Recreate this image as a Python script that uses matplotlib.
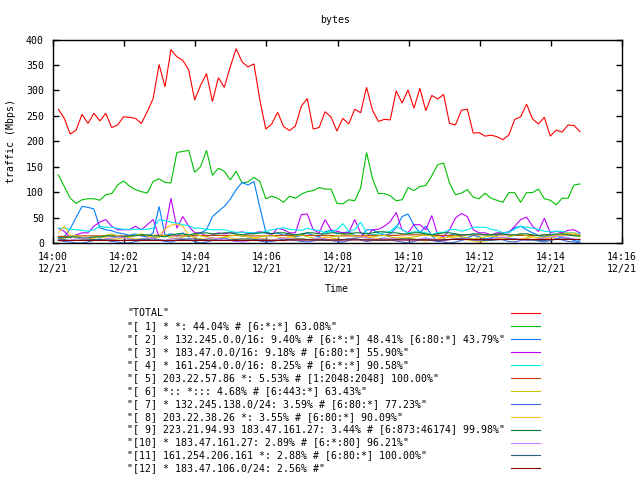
import matplotlib
matplotlib.use("Agg")
import matplotlib.pyplot as plt
import matplotlib.dates as mdates
from matplotlib.lines import Line2D
import pandas as pd

start_time = "2010-12-21 14:00:09"
n_points = 89

total = [263,245,214,222,253,235,255,240,255,227,
         232,248,247,245,235,258,284,351,307,380,
         366,359,340,281,310,333,278,325,306,346,
         382,356,346,352,281,224,234,257,229,221,
         230,269,284,224,227,258,248,220,245,234,
         263,256,306,261,239,243,242,299,275,301,
         265,304,260,290,283,292,235,232,261,263,
         216,217,210,212,209,203,212,243,248,273,
         244,234,247,210,222,218,232,231,219]

s1 = [134,111,88,78,85,87,87,84,95,97,
      114,122,112,105,101,98,121,126,119,118,
      178,180,182,139,150,182,133,147,141,124,
      141,118,120,129,121,87,92,88,80,92,
      88,96,101,103,109,106,106,78,77,85,
      83,108,178,127,97,97,93,83,85,109,
      103,111,113,132,154,157,118,95,98,105,
      90,87,98,88,84,80,99,99,80,99,
      99,106,87,84,75,88,88,114,116]

s2 = [10,12,28,50,72,70,67,30,26,24,
      20,18,15,18,14,12,20,72,15,18,
      15,20,12,15,20,26,52,62,72,86,
      105,119,114,121,70,22,18,20,15,18,
      12,15,20,15,12,22,25,18,20,22,
      15,12,26,26,20,15,18,30,52,57,
      35,20,33,15,2,8,15,18,12,10,
      15,12,8,10,15,20,22,30,33,26,
      20,15,12,18,8,12,10,5,2]

s3 = [29,23,10,16,20,20,33,41,46,33,
      26,26,26,33,26,36,46,12,26,88,
      29,52,33,20,20,13,16,20,18,20,
      20,22,18,20,22,20,16,29,26,20,
      20,56,57,26,20,46,26,23,20,20,
      46,20,12,26,27,33,42,60,26,20,
      36,36,26,54,16,12,26,49,58,52,
      26,20,20,16,20,20,20,33,46,51,
      33,23,49,20,23,20,25,26,20]

s4 = [29,29,27,26,25,23,26,33,31,31,
      29,27,27,27,27,27,29,46,44,41,
      39,36,34,29,29,27,26,26,26,23,
      21,21,21,20,20,23,26,28,30,27,
      26,25,29,26,25,20,23,26,38,23,
      26,41,20,16,18,20,23,33,26,20,
      22,22,20,16,21,21,26,27,23,26,
      31,31,31,27,25,20,21,27,33,31,
      29,27,23,22,23,23,20,20,18]

s5 = [13,13,13,14,14,14,14,14,14,14,
      14,14,14,15,15,15,15,15,15,14,
      14,14,14,14,15,15,15,15,15,15,
      15,14,14,14,14,14,14,15,15,15,
      15,15,15,15,15,15,15,14,14,14,
      14,14,15,15,15,15,15,15,16,16,
      16,16,16,15,15,15,15,15,15,16,
      16,16,16,16,16,16,16,15,15,15,
      15,15,16,16,16,16,16,16,16]

s6 = [8,10,12,15,10,8,10,12,15,18,
      14,10,12,15,18,14,10,12,15,10,
      8,12,15,18,14,12,10,8,12,14,
      16,14,12,10,12,14,15,12,10,12,
      14,16,12,10,8,10,12,14,16,18,
      14,12,10,12,14,15,12,10,8,10,
      12,14,16,14,12,10,12,14,12,10,
      8,10,12,14,12,10,12,15,18,14,
      12,10,12,14,16,18,20,16,12]

s7 = [5,3,2,0,0,2,5,8,6,3,
      2,0,0,3,5,8,10,6,3,2,
      5,8,6,3,0,2,5,8,10,6,
      3,5,8,6,4,2,3,5,8,6,
      5,3,2,4,6,8,5,3,2,5,
      8,6,3,5,8,10,6,4,2,0,
      3,6,8,5,3,2,0,2,5,8,
      6,4,5,8,10,6,3,2,5,8,
      6,4,2,5,8,6,3,2,0]

s8 = [20,33,15,10,8,8,10,12,10,8,
      8,10,10,8,8,10,15,12,28,35,
      37,33,15,10,8,8,8,10,12,10,
      8,8,6,8,10,8,6,8,10,12,
      10,8,6,8,10,12,10,8,6,8,
      10,12,14,10,8,6,8,10,12,10,
      8,6,4,6,8,10,12,10,8,6,
      4,2,4,6,8,10,8,6,8,10,
      12,10,8,10,12,15,18,20,15]

s9 = [10,10,12,12,10,10,12,12,14,14,
      12,12,14,14,16,16,14,14,12,16,
      18,18,16,18,20,20,18,18,20,20,
      18,16,18,18,20,20,18,20,20,18,
      16,18,20,20,18,18,20,20,18,18,
      20,20,18,20,22,22,20,20,18,18,
      20,20,18,16,18,20,20,18,16,16,
      18,18,16,16,18,18,16,16,18,18,
      16,14,16,16,18,18,16,14,14]

s10 = [8,6,5,8,10,8,6,5,8,10,
       12,10,8,6,8,10,8,6,5,8,
       10,8,6,5,6,8,10,8,6,5,
       4,2,4,6,8,6,5,8,10,8,
       6,5,6,8,10,8,6,4,6,8,
       10,12,10,8,6,8,10,8,6,5,
       6,8,10,8,6,4,6,8,10,8,
       6,5,6,8,10,12,10,8,6,5,
       6,8,10,12,14,12,10,8,6]

s11 = [6,6,5,5,6,6,7,7,6,6,
       5,5,6,6,7,7,6,6,5,5,
       6,7,8,8,7,6,6,5,5,6,
       7,8,8,7,6,6,5,5,6,7,
       8,8,7,6,6,5,5,6,7,8,
       8,7,6,6,5,5,6,7,8,8,
       7,6,6,5,5,6,7,8,8,7,
       6,6,5,5,6,7,8,8,7,6,
       6,5,5,6,7,8,8,7,6]

s12 = [5,5,5,5,5,5,5,5,5,5,
       5,5,5,5,5,5,5,5,5,5,
       5,5,5,5,5,5,5,5,5,5,
       5,5,5,5,5,5,5,5,5,6,
       6,6,6,6,6,6,6,6,6,6,
       6,6,6,6,6,6,6,6,6,6,
       6,6,6,6,6,6,7,7,7,7,
       7,7,7,7,7,7,7,7,7,7,
       7,7,7,7,7,7,7,7,7]

labels = [
    '"TOTAL"',
    '"[ 1] * *: 44.04% # [6:*:*] 63.08%"',
    '"[ 2] * 132.245.0.0/16: 9.40% # [6:*:*] 48.41% [6:80:*] 43.79%"',
    '"[ 3] * 183.47.0.0/16: 9.18% # [6:80:*] 55.90%"',
    '"[ 4] * 161.254.0.0/16: 8.25% # [6:*:*] 90.58%"',
    '"[ 5] 203.22.57.86 *: 5.53% # [1:2048:2048] 100.00%"',
    '"[ 6] *:: *::: 4.68% # [6:443:*] 63.43%"',
    '"[ 7] * 132.245.138.0/24: 3.59% # [6:80:*] 77.23%"',
    '"[ 8] 203.22.38.26 *: 3.55% # [6:80:*] 90.09%"',
    '"[ 9] 223.21.94.93 183.47.161.27: 3.44% # [6:873:46174] 99.98%"',
    '"[10] * 183.47.161.27: 2.89% # [6:*:80] 96.21%"',
    '"[11] 161.254.206.161 *: 2.88% # [6:80:*] 100.00%"',
    '"[12] * 183.47.106.0/24: 2.56% #"',
]
colors = ["#ff0000", "#00c000", "#0080ff", "#c000ff", "#00eeee", "#c04000",
          "#c8c800", "#4169e1", "#ffc020", "#008040", "#c080ff", "#306080",
          "#8b0000"]
series = [total, s1, s2, s3, s4, s5, s6, s7, s8, s9, s10, s11, s12]

yticks = [0, 50, 100, 150, 200, 250, 300, 350, 400]

FONT = "DejaVu Sans Mono"
FS = 7.15
LW = 0.8
plt.rcParams["font.family"] = FONT
plt.rcParams["font.size"] = FS

W, H = 640, 480
fig = plt.figure(figsize=(6.4, 4.8), dpi=100)
ax = fig.add_axes([53 / W, 1 - 243 / H, (622 - 53) / W, (243 - 39.5) / H])

times = pd.date_range(start_time, periods=n_points, freq="10s")
for vals, col in zip(series, colors):
    ax.plot(times, vals, color=col, lw=LW, solid_joinstyle="miter")

ax.set_ylim(0, 400)
ax.set_yticks(yticks)
ax.set_xlim(pd.Timestamp("2010-12-21 14:00:00"), pd.Timestamp("2010-12-21 14:16:00"))
ax.xaxis.set_major_locator(mdates.MinuteLocator(byminute=range(0, 60, 2)))
ax.xaxis.set_major_formatter(mdates.DateFormatter("%H:%M\n%m/%d"))
ax.tick_params(direction="in", length=4, width=1, top=True, right=True,
               labelsize=FS, pad=6.5)
for lab in ax.get_xticklabels():
    lab.set_horizontalalignment("center")
for sp in ax.spines.values():
    sp.set_linewidth(1.0)

fig.text(335 / W, 1 - 20 / H, "bytes", ha="center", va="center", fontsize=FS)
fig.text(11 / W, 1 - 141 / H, "traffic (Mbps)", rotation=90, ha="center",
         va="center", fontsize=FS)
fig.text(337 / W, 1 - 289 / H, "Time", ha="center", va="center", fontsize=FS)

y0, dy = 313.3, 12.92
for i, (lab, col) in enumerate(zip(labels, colors)):
    y = 1 - (y0 + i * dy) / H
    fig.text(127 / W, y, lab, ha="left", va="center", fontsize=FS)
    fig.add_artist(Line2D([511 / W, 540 / W], [y, y], color=col, lw=LW,
                          transform=fig.transFigure))

fig.savefig("out.png", dpi=100)
